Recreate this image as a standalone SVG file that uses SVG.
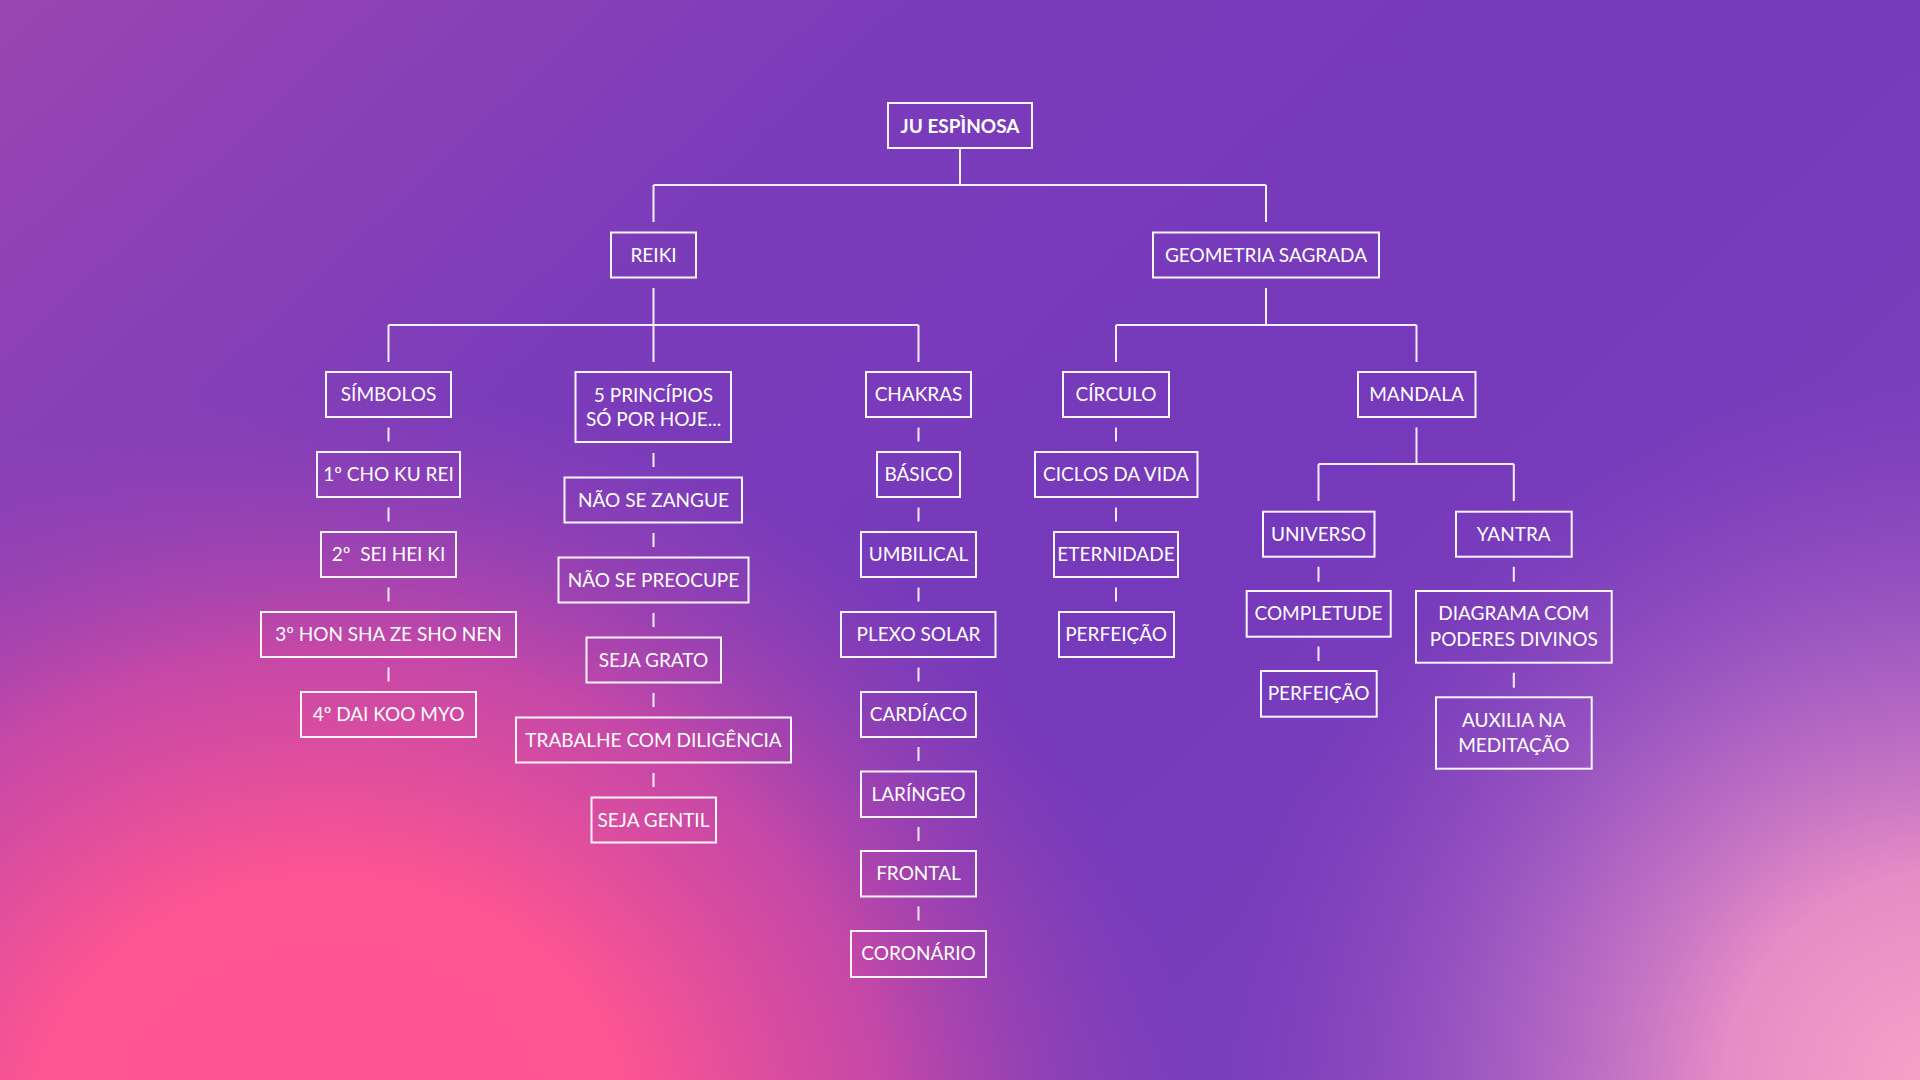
<svg xmlns="http://www.w3.org/2000/svg" width="1920" height="1080" viewBox="0 0 1920 1080">
<defs>
<linearGradient id="base" x1="0" y1="0" x2="1" y2="0.6">
<stop offset="0" stop-color="#9A45B2"/>
<stop offset="0.35" stop-color="#7B3CBA"/>
<stop offset="0.7" stop-color="#7539BB"/>
<stop offset="1" stop-color="#7D40BC"/>
</linearGradient>
<radialGradient id="pink" gradientUnits="userSpaceOnUse" cx="330" cy="1140" r="820" gradientTransform="translate(330 1140) scale(1.05 0.92) translate(-330 -1140)">
<stop offset="0" stop-color="#FF5590"/>
<stop offset="0.35" stop-color="#FD5592"/>
<stop offset="0.65" stop-color="#D24AA4" stop-opacity="0.85"/>
<stop offset="1" stop-color="#9A45B2" stop-opacity="0"/>
</radialGradient>
<radialGradient id="light" gradientUnits="userSpaceOnUse" cx="1940" cy="1090" r="720">
<stop offset="0" stop-color="#FAA2C8"/>
<stop offset="0.3" stop-color="#E68CC6"/>
<stop offset="0.6" stop-color="#B468C4" stop-opacity="0.75"/>
<stop offset="1" stop-color="#8A48BE" stop-opacity="0"/>
</radialGradient>
<style>
.box{fill:none;stroke:#FBF6FD;stroke-width:2}
.lnk{fill:none;stroke:#F6EEFA;stroke-width:2}
text{font-family:Lato,"Noto Sans","Liberation Sans",sans-serif;font-size:19px;fill:#FFFFFF;text-anchor:middle}
.t{font-weight:700;font-size:19px}
</style>
</defs>
<rect x="0" y="0" width="1920" height="1080" fill="url(#base)"/>
<rect x="0" y="0" width="1920" height="1080" fill="url(#pink)"/>
<rect x="0" y="0" width="1920" height="1080" fill="url(#light)"/>

<g id="connectors">
<path class="lnk" d="M960 148V185M653.5 185H1266M653.5 185V222M1266 185V222"/>
<path class="lnk" d="M653.5 288V325M388.5 325H918.5M388.5 325V362M653.5 325V362M918.5 325V362"/>
<path class="lnk" d="M1266 288V325M1116 325H1416.5M1116 325V362M1416.5 325V362"/>
<path class="lnk" d="M388.5 427.5V441.5M388.5 507.5V521.5M388.5 587.5V601.5M388.5 667.5V681.5"/>
<path class="lnk" d="M653.5 453V467M653.5 533V547M653.5 613V627M653.5 693V707M653.5 773V787"/>
<path class="lnk" d="M918.5 427.5V441.5M918.5 507.5V521.5M918.5 587.5V601.5M918.5 667.5V681.5M918.5 747V761M918.5 827V841M918.5 906.5V920.5"/>
<path class="lnk" d="M1116 427.5V441.5M1116 507.5V521.5M1116 587.5V601.5"/>
<path class="lnk" d="M1416.5 427.5V464M1318.5 464H1513.8M1318.5 464V501M1513.8 464V501"/>
<path class="lnk" d="M1318.5 566.7V581.7M1318.5 646.5V661M1513.8 566.7V581.7M1513.8 672.7V687.7"/>
</g>

<g id="n-ju"><rect class="box" x="888" y="103" width="144" height="45"/><text class="t" x="960" y="132.5">JU ESPÌNOSA</text></g>
<g id="n-reiki"><rect class="box" x="611" y="232.5" width="85" height="45"/><text x="653.5" y="261.5">REIKI</text></g>
<g id="n-geometria"><rect class="box" x="1153" y="232.5" width="226" height="45"/><text x="1266" y="261.5">GEOMETRIA SAGRADA</text></g>

<g id="n-simbolos"><rect class="box" x="326" y="372" width="125" height="45"/><text x="388.5" y="401">SÍMBOLOS</text></g>
<g id="n-s1"><rect class="box" x="317" y="452" width="143" height="45"/><text x="388.5" y="481">1º CHO KU REI</text></g>
<g id="n-s2"><rect class="box" x="321" y="532" width="135" height="45"/><text x="388.5" y="561">2º&#160; SEI HEI KI</text></g>
<g id="n-s3"><rect class="box" x="261" y="612" width="255" height="45"/><text x="388.5" y="641">3º HON SHA ZE SHO NEN</text></g>
<g id="n-s4"><rect class="box" x="301" y="692" width="175" height="45"/><text x="388.5" y="721">4º DAI KOO MYO</text></g>

<g id="n-principios"><rect class="box" x="575.5" y="372" width="155.5" height="70"/><text x="653.5" y="401.5">5 PRINCÍPIOS</text><text x="653.5" y="426">SÓ POR HOJE...</text></g>
<g id="n-p1"><rect class="box" x="564.5" y="477.5" width="177.5" height="45"/><text x="653.5" y="506.5">NÃO SE ZANGUE</text></g>
<g id="n-p2"><rect class="box" x="558.5" y="557.5" width="190" height="45"/><text x="653.5" y="586.5">NÃO SE PREOCUPE</text></g>
<g id="n-p3"><rect class="box" x="586.5" y="637.5" width="134.5" height="45"/><text x="653.5" y="666.5">SEJA GRATO</text></g>
<g id="n-p4"><rect class="box" x="516" y="717.5" width="275" height="45"/><text x="653.5" y="746.5">TRABALHE COM DILIGÊNCIA</text></g>
<g id="n-p5"><rect class="box" x="591.5" y="797.5" width="124.5" height="45"/><text x="653.5" y="826.5">SEJA GENTIL</text></g>

<g id="n-chakras"><rect class="box" x="866" y="372" width="105" height="45"/><text x="918.5" y="401">CHAKRAS</text></g>
<g id="n-c1"><rect class="box" x="877" y="452" width="83" height="45"/><text x="918.5" y="481">BÁSICO</text></g>
<g id="n-c2"><rect class="box" x="861" y="532" width="115" height="45"/><text x="918.5" y="561">UMBILICAL</text></g>
<g id="n-c3"><rect class="box" x="841" y="612" width="154.5" height="45"/><text x="918.5" y="641">PLEXO SOLAR</text></g>
<g id="n-c4"><rect class="box" x="861" y="692" width="115" height="45"/><text x="918.5" y="721">CARDÍACO</text></g>
<g id="n-c5"><rect class="box" x="861" y="771.5" width="115" height="45.5"/><text x="918.5" y="800.5">LARÍNGEO</text></g>
<g id="n-c6"><rect class="box" x="861" y="851" width="115" height="45.5"/><text x="918.5" y="880">FRONTAL</text></g>
<g id="n-c7"><rect class="box" x="851" y="931" width="135" height="46"/><text x="918.5" y="960">CORONÁRIO</text></g>

<g id="n-circulo"><rect class="box" x="1063" y="372" width="106" height="45"/><text x="1116" y="401">CÍRCULO</text></g>
<g id="n-ci1"><rect class="box" x="1035" y="452" width="162.5" height="45"/><text x="1116" y="481">CICLOS DA VIDA</text></g>
<g id="n-ci2"><rect class="box" x="1054" y="532" width="124" height="45"/><text x="1116" y="561">ETERNIDADE</text></g>
<g id="n-ci3"><rect class="box" x="1059" y="612" width="115" height="45"/><text x="1116" y="641">PERFEIÇÃO</text></g>

<g id="n-mandala"><rect class="box" x="1358" y="372" width="117.5" height="45"/><text x="1416.5" y="401">MANDALA</text></g>
<g id="n-universo"><rect class="box" x="1263" y="511.7" width="111.5" height="45"/><text x="1318.5" y="540.7">UNIVERSO</text></g>
<g id="n-completude"><rect class="box" x="1246.7" y="591" width="144" height="45.7"/><text x="1318.5" y="620">COMPLETUDE</text></g>
<g id="n-perfeicao2"><rect class="box" x="1261" y="671" width="115.7" height="45.7"/><text x="1318.5" y="700">PERFEIÇÃO</text></g>
<g id="n-yantra"><rect class="box" x="1456" y="511.7" width="115.7" height="45"/><text x="1513.8" y="540.7">YANTRA</text></g>
<g id="n-diagrama"><rect class="box" x="1416" y="591" width="195.7" height="71.7"/><text x="1513.8" y="620">DIAGRAMA COM</text><text x="1513.8" y="645.5">PODERES DIVINOS</text></g>
<g id="n-auxilia"><rect class="box" x="1436" y="697.3" width="155.7" height="71.4"/><text x="1513.8" y="726.5">AUXILIA NA</text><text x="1513.8" y="751.5">MEDITAÇÃO</text></g>
</svg>
